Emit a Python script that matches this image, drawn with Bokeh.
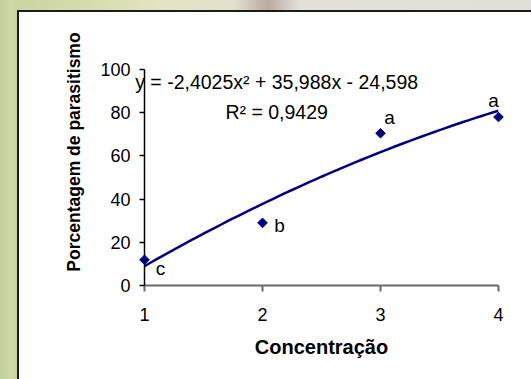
import math
import numpy as np
from bokeh.plotting import figure
from bokeh.models import (ColumnDataSource, FixedTicker, Range1d,
                          GlobalInlineStyleSheet)
from bokeh.core.properties import value
from bokeh.embed import file_html
from bokeh.resources import INLINE

# ---- data ----
concentracao = [1, 2, 3, 4]
parasitismo = [11.9, 29.0, 70.5, 78.0]
letras = ["c", "b", "a", "a"]
x_ticks = [1, 2, 3, 4]
y_ticks = [0, 20, 40, 60, 80, 100]
trend_coef = [-2.4025, 35.988, -24.598]   # polynomial shown on the chart
equation_text = "y = -2,4025x² + 35,988x - 24,598"
r2_text = "R² = 0,9429"
x_title = "Concentração"
y_title = "Porcentagem de parasitismo"

# ---- label placement (pixels, y down) ----
label_dx = [16, 17, 9, -5]
label_dy = [9, 3, -16, -17]

NAVY = "#000080"
FONT = "Liberation Sans"

src = ColumnDataSource(dict(x=concentracao, y=parasitismo, t=letras,
                            dx=label_dx, dy=label_dy))

p = figure(width=523, height=371, x_range=Range1d(1, 4),
           y_range=Range1d(0, 100), output_backend="svg",
           toolbar_location=None, min_border_left=144, min_border_right=25,
           min_border_top=69, min_border_bottom=86,
           border_fill_color=None, background_fill_color="white",
           outline_line_color=None)

p.xgrid.visible = False
p.ygrid.visible = False

# x axis
xa = p.xaxis[0]
xa.ticker = FixedTicker(ticks=x_ticks)
xa.axis_line_color = "#6a6a6a"
xa.axis_line_width = 2
xa.major_tick_line_color = "#6a6a6a"
xa.major_tick_line_width = 2
xa.major_tick_out = 6
xa.major_tick_in = 0
xa.minor_tick_out = 0
xa.minor_tick_in = 0
xa.major_label_text_font = FONT
xa.major_label_text_font_size = "18px"
xa.major_label_text_color = "black"
xa.major_label_standoff = 16
xa.axis_label = x_title
xa.axis_label_text_font = FONT
xa.axis_label_text_font_style = "bold"
xa.axis_label_text_font_size = "20px"
xa.axis_label_text_color = "black"
xa.axis_label_standoff = 12

# y axis
ya = p.yaxis[0]
ya.ticker = FixedTicker(ticks=y_ticks)
ya.axis_line_color = "black"
ya.axis_line_width = 1.5
ya.major_tick_line_color = "black"
ya.major_tick_line_width = 1.5
ya.major_tick_out = 5
ya.major_tick_in = 0
ya.minor_tick_out = 0
ya.minor_tick_in = 0
ya.major_label_text_font = FONT
ya.major_label_text_font_size = "18px"
ya.major_label_text_color = "black"
ya.major_label_standoff = 9

# trend line from the displayed polynomial
xs = np.linspace(concentracao[0], concentracao[-1], 61)
ys = np.polyval(trend_coef, xs)
p.line(xs, ys, line_color=NAVY, line_width=2.5)

# data points (overlay level so the edge points are not clipped)
p.scatter(x="x", y="y", source=src, marker="square", angle=math.pi / 4,
          size=6.8, fill_color=NAVY, line_color=NAVY, level="overlay")

p.text(x="x", y="y", text="t", source=src, x_offset="dx", y_offset="dy",
       text_align="center", text_baseline="alphabetic",
       text_font=value(FONT), text_font_size=value("19px"),
       text_color="black", level="overlay")

# trendline equation
p.text(x=[2.12, 2.12], y=[94.0, 80.1], text=[equation_text, r2_text],
       text_align="center", text_baseline="alphabetic",
       text_font=value(FONT), text_font_size=value("19.5px"),
       text_color="black", level="overlay")

# y axis title
p.text(x=[0.4025], y=[61.8], text=[y_title], angle=math.pi / 2,
       text_align="center", text_baseline="middle",
       text_font=value(FONT), text_font_style="bold",
       text_font_size=value("17.5px"), text_color="black", level="overlay")

css = """
html, body { margin: 0; padding: 0; }
body {
  background:
    linear-gradient(#1c1c1c, #1c1c1c) 17px 10px / 2px 100% no-repeat,
    linear-gradient(#1c1c1c, #1c1c1c) 17px 10px / 100% 2px no-repeat,
    linear-gradient(to right, #c3d09a 0px, #cfd8a6 11px, #c8d39e 17px) 0 0 / 17px 100% no-repeat,
    linear-gradient(to right, #c8d39e 0px, #d4dbab 80px, #e4e5c4 170px,
                    #e3dfcd 235px, #bba99f 268px, #cdc3bc 282px,
                    #e3e1da 300px, #e1dfdb 531px) 0 0 / 100% 10px no-repeat,
    #ffffff;
}
"""
p.stylesheets = [GlobalInlineStyleSheet(css=css)]

open("out.html", "w").write(file_html(p, INLINE))
